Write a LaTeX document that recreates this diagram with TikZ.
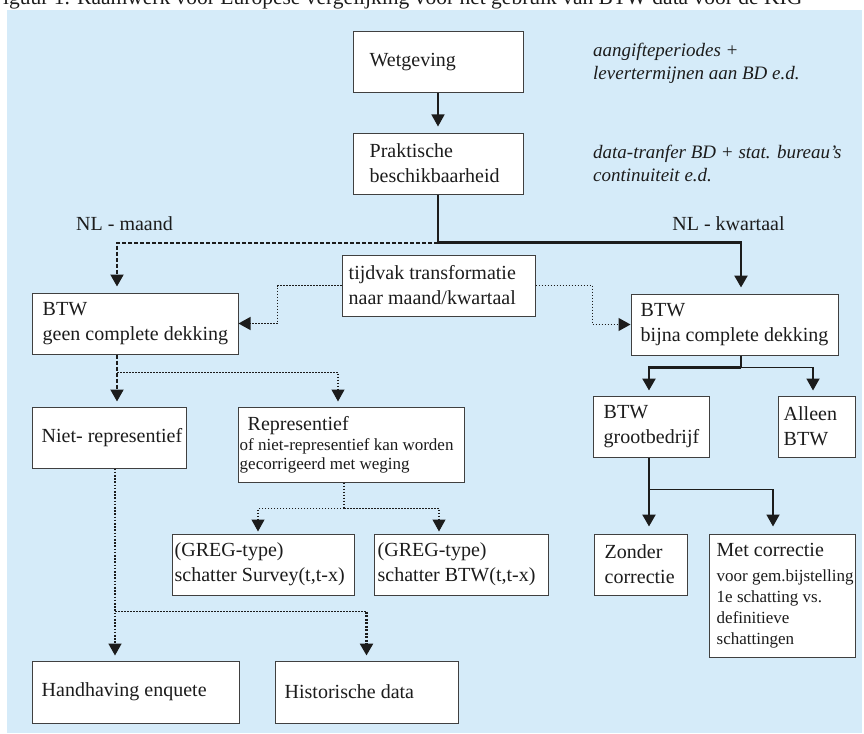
\documentclass[tikz,border=0pt]{standalone}
\usepackage{fontspec}
\setmainfont{Liberation Serif}
\usetikzlibrary{arrows.meta}

\definecolor{bgblue}{RGB}{213,235,249}
\definecolor{ink}{RGB}{28,28,28}

\newcommand\mainsize{\fontsize{20}{25}\selectfont}
\newcommand\smallsz{\fontsize{17}{19}\selectfont}
\newcommand\metsz{\fontsize{17}{21}\selectfont}
\newcommand\notesize{\fontsize{19}{23}\selectfont}

% box with left-aligned text: name, x, y, width, height, text padding, text
\newcommand\mkbox[7]{%
  \node[box, minimum width=#4, minimum height=#5] (#1) at ({#2+#4/2},{#3+#5/2}) {};
  \node[txt] (#1-t) at ([xshift=#6]#1.west) {#7};}

\begin{document}
\begin{tikzpicture}[x=1pt, y=-1pt,
  box/.style={draw=black!75, fill=white, line width=1pt, inner sep=0pt},
  txt/.style={inner sep=0pt, anchor=west, align=left, font=\mainsize, text=ink},
  note/.style={inner sep=0pt, anchor=west, align=left, font=\notesize\itshape, text=ink},
  tip/.style={-{Triangle[width=13pt,length=12pt]}},
  solidthin/.style={draw=ink, line width=1.4pt},
  solidmid/.style={draw=ink, line width=1.8pt},
  solidthick/.style={draw=ink, line width=2.4pt},
  dashthick/.style={draw=ink, line width=2pt, dash pattern=on 4pt off 2pt},
  dotthin/.style={draw=ink, line width=1.2pt, dash pattern=on 1.5pt off 1.5pt},
  dotmid/.style={draw=ink, line width=1.7pt, dash pattern=on 1.6pt off 1.6pt},
  dotthick/.style={draw=ink, line width=2.6pt, dash pattern=on 2pt off 1.5pt},
]
\useasboundingbox (0,0) rectangle (864,733);

% caption (partly above the page)
\node[anchor=base west, inner sep=0pt, font=\fontsize{21.5}{22}\selectfont, text=ink]
  (caption) at (-9,5) {Figuur 1. Raamwerk voor Europese vergelijking voor het gebruik van BTW-data voor de KIG};

% background panel
\fill[bgblue] (7,10) rectangle (862,733);

% boxes
\mkbox{wet}{353}{32}{170}{61}{17}{Wetgeving}
\mkbox{prak}{353}{133}{170}{61}{17}{Praktische\\beschikbaarheid}
\mkbox{tijd}{342}{255}{193}{61}{7}{tijdvak transformatie\\naar maand/kwartaal}
\mkbox{geen}{32}{293}{206}{61}{11}{BTW\\geen complete dekking}
\mkbox{bijna}{631}{294}{207}{61}{10}{BTW\\bijna complete dekking}
\mkbox{niet}{32}{407}{154}{61}{10}{Niet- representief}
\mkbox{gb}{593}{396}{116}{61}{11}{BTW\\grootbedrijf}
\mkbox{alleen}{778}{396}{77}{61}{6}{Alleen\\BTW}
\mkbox{gA}{172}{534}{182}{61}{3}{(GREG-type)\\schatter Survey(t,t-x)}
\mkbox{gB}{374}{534}{174}{61}{4}{(GREG-type)\\schatter BTW(t,t-x)}
\mkbox{zonder}{594}{534}{93}{61}{11}{Zonder\\correctie}
\mkbox{hand}{32}{661}{207}{62}{10}{Handhaving enquete}
\mkbox{hist}{275}{661}{183}{62}{10}{Historische data}

% boxes with mixed text sizes
\node[box, minimum width=226, minimum height=75] (repr) at (351,444.5) {};
\node[txt, font=\smallsz] (repr-t) at ([xshift=2pt]repr.west)
  {\hspace*{8pt}{\mainsize Representief}\\[1pt]of niet-representief kan worden\\gecorrigeerd met weging};
\node[box, minimum width=146, minimum height=123] (met) at (782,595.5) {};
\node[txt, font=\metsz] (met-t) at ([xshift=8pt]met.west)
  {{\mainsize Met correctie}\\[4pt]voor gem.bijstelling\\1e schatting vs.\\definitieve\\schattingen};

% side notes and branch labels
\node[note] (noteA) at (593,63.5) {aangifteperiodes +\\levertermijnen aan BD e.d.};
\node[note] (noteB) at (593,163.5) {data-tranfer BD + stat. bureau’s\\continuiteit e.d.};
\node[txt, anchor=center] (nlm) at (124.5,224) {NL - maand};
\node[txt, anchor=center] (nlk) at (728.5,224) {NL - kwartaal};

% connectors
\draw[solidthin, tip, shorten >=6pt] (wet) -- (prak);
\draw[solidthick] (prak.south) -- ++(0,48) coordinate (split);
\draw[solidthick, tip, shorten >=6pt] (split) -| ([xshift=6.5pt]bijna.north);
\draw[dashthick, tip, shorten >=6pt] (split) -| ([xshift=-18pt]geen.north);

\draw[dotthin, tip] (tijd.west) -- ++(-64,0) |- (geen.east);
\draw[dotthin, tip] (tijd.east) -- ++(57,0) |- (bijna.west);

\draw[dashthick, tip, shorten >=5pt] ([xshift=-18pt]geen.south) -- ([xshift=8pt]niet.north);
\draw[dotthin, tip, shorten >=5pt] ([xshift=-18pt]geen.south) ++(0,18) -| ([xshift=-13pt]repr.north);

\draw[dotthin] ([xshift=-7pt]repr.south) -- ++(0,26) coordinate (rs);
\draw[dotthin, tip, shorten >=2pt] (rs) -| ([xshift=-5pt]gA.north);
\draw[dotthin, tip, shorten >=2pt] (rs) -| ([xshift=-22pt]gB.north);

\draw[dotmid, tip, shorten >=5pt] ([xshift=6pt]niet.south) -- ([xshift=-20.5pt]hand.north);
\path ([xshift=6pt]niet.south) ++(0,143) coordinate (ns);
\draw[dotthin] (ns) -- (ns -| hist.north);
\draw[dotthick, tip, shorten >=5pt] (ns -| hist.north) -- (hist.north);

\draw[solidthick] ([xshift=6.5pt]bijna.south) -- ++(0,12) coordinate (bs);
\draw[solidthick, tip, shorten >=5pt] (bs) -| ([xshift=-2pt]gb.north);
\draw[solidmid, tip, shorten >=5pt] (bs) -| ([xshift=-3.5pt]alleen.north);

\draw[solidthick] ([xshift=-2pt]gb.south) -- ++(0,32) coordinate (gs);
\draw[solidthick, tip, shorten >=7pt] (gs) -- ([xshift=8.5pt]zonder.north);
\draw[solidmid, tip, shorten >=7pt] (gs) -| ([xshift=-9pt]met.north);
\end{tikzpicture}
\end{document}
